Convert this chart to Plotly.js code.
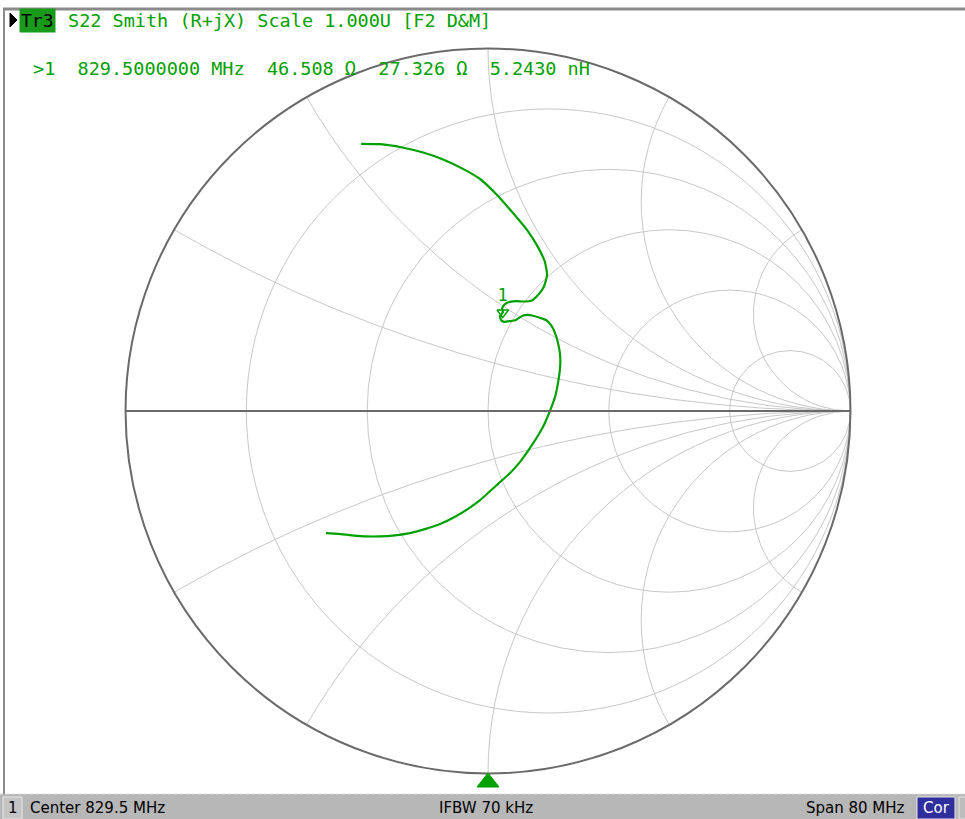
<!DOCTYPE html>
<html><head><meta charset="utf-8">
<script src="https://cdn.plot.ly/plotly-3.0.1.min.js"></script>
<style>html,body{margin:0;padding:0;background:#fff;} #chart{width:965px;height:819px;}</style>
</head><body><div id="chart"></div>
<script>
// ---------- data ----------
const Z0 = 50;
// S22 reflection coefficient along the sweep (real / imaginary parts)
const s22Re = [-0.350,-0.298,-0.237,-0.179,-0.124,-0.069,-0.022,0.025,0.069,0.108,0.138,0.157,0.163,0.154,0.138,0.121,0.097,0.080,0.061,0.047,0.039,0.041,0.033,0.036,0.044,0.061,0.077,0.094,0.108,0.127,0.143,0.160,0.174,0.185,0.193,0.199,0.199,0.193,0.185,0.171,0.157,0.141,0.116,0.088,0.061,0.028,-0.022,-0.055,-0.091,-0.132,-0.174,-0.215,-0.257,-0.298,-0.337,-0.375,-0.414,-0.447];
const s22Im = [0.737,0.736,0.727,0.713,0.694,0.668,0.640,0.596,0.546,0.499,0.452,0.411,0.375,0.342,0.320,0.305,0.302,0.303,0.301,0.295,0.284,0.272,0.262,0.251,0.246,0.248,0.251,0.262,0.265,0.262,0.257,0.251,0.237,0.215,0.188,0.154,0.121,0.077,0.039,0.000,-0.033,-0.063,-0.102,-0.141,-0.171,-0.201,-0.246,-0.270,-0.292,-0.312,-0.326,-0.337,-0.343,-0.346,-0.346,-0.343,-0.339,-0.337];
// marker 1 readout
const markerLabel = ['1'];
const markerFreqMHz = [829.5];
const markerR = [46.508];   // ohm
const markerX = [27.326];   // ohm
const markerL = [5.2430];   // nH
// grid values (normalized)
const resistanceGrid = [0.2, 0.5, 1, 2, 5];
const reactanceGrid = [-3.732, -1.732, -1, -0.577, -0.268, 0.268, 0.577, 1, 1.732, 3.732];
// texts
const headerTrace = 'Tr3';
const headerText = 'S22 Smith (R+jX) Scale 1.000U [F2 D&M]';
const statusLeft = 'Center 829.5 MHz';
const statusMid = 'IFBW 70 kHz';
const statusRight = 'Span 80 MHz';

// ---------- helpers ----------
const W = 965, H = 819;
const px = x => x / W;
const py = y => 1 - y / H;
function gammaToZ(re, im) {
  const zr = [], zi = [];
  for (let i = 0; i < re.length; i++) {
    const a = re[i], b = im[i];
    const den = (1 - a) * (1 - a) + b * b;
    zr.push((1 - a * a - b * b) / den);
    zi.push(2 * b / den);
  }
  return {zr, zi};
}
const z = gammaToZ(s22Re, s22Im);
const GREEN = '#00a000';
const mono = 'DejaVu Sans Mono';
const fmt = (v, d) => v.toFixed(d);
const readout = '>1  ' + fmt(markerFreqMHz[0], 7) + ' MHz  ' + fmt(markerR[0], 3) + ' \u03A9  ' +
                fmt(markerX[0], 3) + ' \u03A9  ' + fmt(markerL[0], 4) + ' nH';

const traces = [
  {type: 'scattersmith', real: z.zr, imag: z.zi, mode: 'lines',
   line: {color: GREEN, width: 2.2, shape: 'spline', smoothing: 0.5}, hoverinfo: 'skip'},
  {type: 'scattersmith', real: markerR.map(v => v / Z0), imag: markerX.map(v => v / Z0),
   mode: 'markers+text', text: markerLabel, textposition: 'top center',
   textfont: {family: mono, size: 17, color: GREEN},
   marker: {symbol: 'triangle-down-open', size: 10, color: GREEN, line: {color: GREEN, width: 1.5}},
   hoverinfo: 'skip'}
];

const gridCol = '#c8c8c8', rimCol = '#6a6a6a';
const layout = {
  width: W, height: H, margin: {l: 0, r: 0, t: 0, b: 0},
  paper_bgcolor: '#ffffff', showlegend: false,
  smith: {
    domain: {x: [0.1301, 0.8813], y: [0.0556, 0.9408]},
    bgcolor: '#ffffff',
    realaxis: {tickvals: resistanceGrid, showticklabels: false, ticks: '',
      showgrid: true, gridcolor: gridCol, gridwidth: 1,
      showline: true, linecolor: rimCol, linewidth: 2},
    imaginaryaxis: {tickvals: reactanceGrid, showticklabels: false, ticks: '',
      showgrid: true, gridcolor: gridCol, gridwidth: 1,
      showline: true, linecolor: rimCol, linewidth: 2}
  },
  shapes: [
    // frame
    {type: 'line', xref: 'paper', yref: 'paper', x0: px(3), x1: px(965), y0: py(9), y1: py(9), line: {color: '#8a8a8a', width: 3}},
    {type: 'line', xref: 'paper', yref: 'paper', x0: px(4), x1: px(4), y0: py(8), y1: py(794), line: {color: '#8a8a8a', width: 2}},
    // status bar
    {type: 'rect', xref: 'paper', yref: 'paper', x0: 0, x1: 1, y0: 0, y1: py(794), fillcolor: '#b7b7b7', line: {width: 0}},
    {type: 'line', xref: 'paper', yref: 'paper', x0: 0, x1: 1, y0: py(794), y1: py(794), line: {color: '#dcdcdc', width: 1, dash: 'dot'}},
    {type: 'rect', xref: 'paper', yref: 'paper', x0: px(3), x1: px(22), y0: 0, y1: py(797), fillcolor: '#c4c4c4', line: {color: '#e6e6e6', width: 1}},
    {type: 'rect', xref: 'paper', yref: 'paper', x0: px(917), x1: px(955), y0: 0, y1: py(797), fillcolor: '#2e2e9c', line: {color: '#e6e6e6', width: 1}},
    {type: 'rect', xref: 'paper', yref: 'paper', x0: px(959), x1: px(970), y0: 0, y1: py(797), fillcolor: '#bdbdbd', line: {color: '#e6e6e6', width: 1}},
    // stimulus pointer
    {type: 'path', xref: 'paper', yref: 'paper', fillcolor: GREEN, line: {color: GREEN, width: 1},
     path: 'M ' + px(488) + ' ' + py(773) + ' L ' + px(477) + ' ' + py(787) + ' L ' + px(499) + ' ' + py(787) + ' Z'},
    // active trace arrow
    {type: 'path', xref: 'paper', yref: 'paper', fillcolor: '#000', line: {color: '#000', width: 1},
     path: 'M ' + px(10) + ' ' + py(13) + ' L ' + px(17) + ' ' + py(20) + ' L ' + px(10) + ' ' + py(27) + ' Z'}
  ],
  annotations: [
    {xref: 'paper', yref: 'paper', x: px(19), y: py(20), xanchor: 'left', yanchor: 'middle', showarrow: false,
     text: headerTrace, font: {family: mono, size: 18, color: '#000'}, bgcolor: '#1a9a1a', borderpad: 1},
    {xref: 'paper', yref: 'paper', x: px(66), y: py(20), xanchor: 'left', yanchor: 'middle', showarrow: false,
     text: headerText, font: {family: mono, size: 18.5, color: GREEN}},
    {xref: 'paper', yref: 'paper', x: px(31), y: py(68), xanchor: 'left', yanchor: 'middle', showarrow: false,
     text: readout.replace(/ /g, '&nbsp;'), font: {family: mono, size: 18.5, color: GREEN}},
    {xref: 'paper', yref: 'paper', x: px(12.5), y: py(808), xanchor: 'center', yanchor: 'middle', showarrow: false,
     text: '1', font: {family: 'DejaVu Sans', size: 15, color: '#000'}},
    {xref: 'paper', yref: 'paper', x: px(28), y: py(808), xanchor: 'left', yanchor: 'middle', showarrow: false,
     text: statusLeft, font: {family: 'DejaVu Sans', size: 15, color: '#000'}},
    {xref: 'paper', yref: 'paper', x: px(486), y: py(808), xanchor: 'center', yanchor: 'middle', showarrow: false,
     text: statusMid, font: {family: 'DejaVu Sans', size: 15, color: '#000'}},
    {xref: 'paper', yref: 'paper', x: px(907), y: py(808), xanchor: 'right', yanchor: 'middle', showarrow: false,
     text: statusRight, font: {family: 'DejaVu Sans', size: 15, color: '#000'}},
    {xref: 'paper', yref: 'paper', x: px(936), y: py(808), xanchor: 'center', yanchor: 'middle', showarrow: false,
     text: 'Cor', font: {family: 'DejaVu Sans', size: 15, color: '#ffffff'}}
  ]
};
Plotly.newPlot('chart', traces, layout, {staticPlot: true, displayModeBar: false});
</script></body></html>
